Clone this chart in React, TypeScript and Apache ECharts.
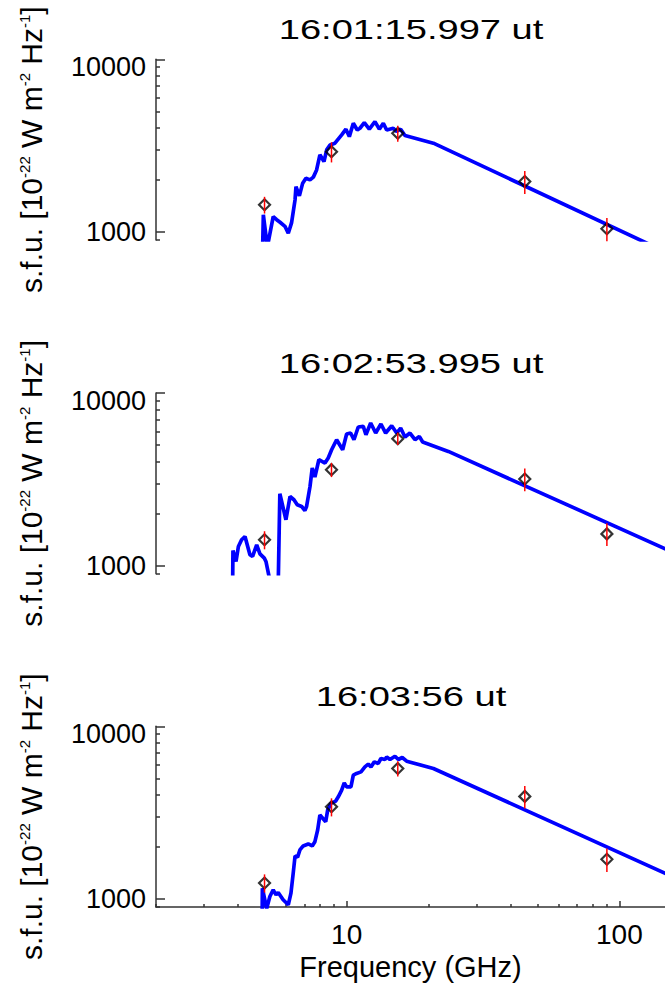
import React, { useEffect, useRef } from 'react';
import * as echarts from 'echarts';

const FONT = '"Liberation Sans", Arial, Helvetica, sans-serif';

// Panel headings (time of each spectrum)
const panelTitles = ['16:01:15.997 ut', '16:02:53.995 ut', '16:03:56 ut'];

// Radiometer frequencies (GHz)
const radioFreqs = [5.0, 8.8, 15.4, 45, 90];

// Radiometer flux densities and uncertainties (s.f.u.) for each time
const fluxA = [1440, 2920, 3730, 1960, 1045];
const errA = [160, 390, 400, 300, 160];
const fluxB = [1415, 3600, 5440, 3180, 1530];
const errB = [170, 340, 440, 480, 230];
const fluxC = [1240, 3420, 5700, 3930, 1700];
const errC = [150, 410, 570, 590, 265];

// Spectrometer spectrum + high-frequency fit: [frequency GHz, flux s.f.u.]
const spectrumA: [number, number][] = [
  [4.92, 800], [4.95, 1260], [5.12, 820], [5.38, 1230], [5.54, 1180], [5.70, 1140],
  [5.94, 1080], [6.11, 985], [6.28, 1130], [6.47, 1540], [6.52, 1835], [6.71, 1620],
  [6.90, 1920], [7.09, 2050], [7.34, 2005], [7.55, 2080], [7.76, 2290], [7.98, 2800],
  [8.26, 2560], [8.45, 2990], [8.69, 3195], [9.06, 3270], [9.59, 3650], [9.94, 3940],
  [10.23, 3570], [10.58, 4265], [10.94, 3900], [11.19, 3990], [11.61, 4300], [12.11, 3940],
  [12.70, 4360], [13.18, 3940], [13.63, 4265], [14.02, 3900], [14.83, 3990], [15.23, 3825],
  [15.78, 3940], [16.36, 3620], [20.8, 3270], [212, 588],
];
const spectrumB: [number, number][] = [
  [3.82, 800], [3.83, 1226], [3.93, 1059], [4.01, 1294], [4.12, 1415], [4.24, 1478],
  [4.42, 1158], [4.52, 1132], [4.68, 1323], [4.81, 1173], [4.99, 1108], [5.06, 1059],
  [5.25, 800], [5.61, 750], [5.69, 2612], [5.99, 1847], [6.20, 2519], [6.41, 2411],
  [6.59, 2255], [6.84, 2204], [7.03, 2090], [7.13, 2204], [7.34, 2879], [7.48, 3679],
  [7.65, 3263], [7.91, 4110], [8.33, 3933], [8.56, 4204], [8.81, 4696], [9.19, 5366],
  [9.67, 4696], [10.0, 5788], [10.34, 5866], [10.64, 5366], [11.03, 6356], [11.51, 6407],
  [11.77, 5734], [12.25, 6705], [12.78, 5866], [13.36, 6616], [13.90, 5866], [14.63, 6467],
  [15.26, 5866], [15.78, 6270], [16.36, 5563], [17.07, 5866], [17.81, 5366], [18.47, 5607],
  [19.0, 5203], [23.6, 4590], [212, 969],
];
const spectrumC: [number, number][] = [
  [4.90, 800], [4.91, 1157], [5.09, 880], [5.23, 1035], [5.38, 1132], [5.51, 1059],
  [5.61, 1092], [5.85, 991], [6.11, 927], [6.25, 1083], [6.37, 1413], [6.47, 1778],
  [6.61, 1748], [6.74, 1925], [6.93, 2031], [7.23, 2085], [7.48, 2031], [7.65, 2150],
  [7.83, 2511], [7.98, 3065], [8.38, 2804], [8.52, 3275], [8.76, 3581], [9.12, 3692],
  [9.32, 3908], [9.59, 4273], [9.80, 4708], [10.0, 4463], [10.37, 4463], [10.58, 5215],
  [10.88, 5334], [11.29, 5448], [11.67, 5822], [12.00, 6036], [12.28, 5822], [12.63, 6223],
  [13.06, 6093], [13.36, 6511], [13.82, 6425], [14.02, 6651], [14.42, 6425], [15.04, 6713],
  [15.47, 6425], [15.99, 6597], [16.60, 6281], [20.8, 5700], [212, 1087],
];

// Axis ranges and tick positions (data units)
const freqRange = [2, 147];
const fluxRange = [900, 10000];
const fluxMajorTicks = [1000, 10000];
const fluxMinorTicks = [900, 2000, 3000, 4000, 5000, 6000, 7000, 8000, 9000];
const freqMajorTicks = [10, 100];
const freqMinorTicks = [2, 3, 4, 5, 6, 7, 8, 9, 20, 30, 40, 50, 60, 70, 80, 90];

const panels = [
  { title: panelTitles[0], spectrum: spectrumA, flux: fluxA, err: errA },
  { title: panelTitles[1], spectrum: spectrumB, flux: fluxB, err: errB },
  { title: panelTitles[2], spectrum: spectrumC, flux: fluxC, err: errC },
];

// Layout
const PLOT_LEFT = 156;
const PLOT_WIDTH = 509;
const PLOT_HEIGHT = 180.7;
const PLOT_TOPS = [59.3, 393, 726.3];
const AXIS_COLOR = '#333';

const lg = (v: number) => Math.log10(v);
const powLabel = (v: number) => String(Math.round(Math.pow(10, v)));

function buildOption() {
  const grid = panels.map((_, i) => ({
    left: PLOT_LEFT,
    top: PLOT_TOPS[i],
    width: PLOT_WIDTH,
    height: PLOT_HEIGHT,
    outerBoundsMode: 'none',
  }));

  const axisLineStyle = { color: AXIS_COLOR, width: 1.5 };
  const xMin = lg(freqRange[0]);
  const xMax = lg(freqRange[1]);
  const yMin = lg(fluxRange[0]);
  const yMax = lg(fluxRange[1]);

  const xAxis: any[] = panels.map((_, i) => {
    const last = i === panels.length - 1;
    return {
      type: 'value',
      gridIndex: i,
      position: 'bottom',
      min: xMin,
      max: xMax,
      show: last,
      splitLine: { show: false },
      axisLine: { show: true, onZero: false, lineStyle: axisLineStyle },
      axisTick: {
        show: true,
        inside: true,
        length: 6,
        customValues: freqMajorTicks.map(lg),
        lineStyle: axisLineStyle,
      },
      axisLabel: {
        show: true,
        customValues: freqMajorTicks.map(lg),
        formatter: (v: number) => powLabel(v),
        fontSize: 28,
        fontFamily: FONT,
        color: '#000',
        margin: 13,
      },
      name: last ? 'Frequency (GHz)' : '',
      nameLocation: 'middle',
      nameGap: 45,
      nameTextStyle: { fontSize: 29, fontFamily: FONT, color: '#000' },
    };
  });
  // minor frequency ticks on the bottom panel
  xAxis.push({
    type: 'value',
    gridIndex: panels.length - 1,
    position: 'bottom',
    min: xMin,
    max: xMax,
    splitLine: { show: false },
    axisLine: { show: false, onZero: false },
    axisTick: {
      show: true,
      inside: true,
      length: 3,
      customValues: freqMinorTicks.map(lg),
      lineStyle: axisLineStyle,
    },
    axisLabel: { show: false },
  });

  const yAxis: any[] = [];
  panels.forEach((_, i) => {
    yAxis.push({
      type: 'value',
      gridIndex: i,
      position: 'left',
      min: yMin,
      max: yMax,
      splitLine: { show: false },
      axisLine: { show: true, onZero: false, lineStyle: axisLineStyle },
      axisTick: {
        show: true,
        inside: true,
        length: 9,
        customValues: fluxMajorTicks.map(lg),
        lineStyle: axisLineStyle,
      },
      axisLabel: {
        show: true,
        customValues: fluxMajorTicks.map(lg),
        margin: 10,
        formatter: (v: number) => (v > 3.5 ? `{hi|${powLabel(v)}}` : `{lo|${powLabel(v)}}`),
        rich: {
          hi: { fontSize: 27, fontFamily: FONT, color: '#000', padding: [16, 0, 0, 0] },
          lo: { fontSize: 27, fontFamily: FONT, color: '#000' },
        },
      },
    });
    yAxis.push({
      type: 'value',
      gridIndex: i,
      position: 'left',
      min: yMin,
      max: yMax,
      splitLine: { show: false },
      axisLine: { show: false, onZero: false },
      axisTick: {
        show: true,
        inside: true,
        length: 4,
        customValues: fluxMinorTicks.map(lg),
        lineStyle: axisLineStyle,
      },
      axisLabel: { show: false },
    });
  });

  const series: any[] = [];
  panels.forEach((p, i) => {
    const xAxisIndex = i;
    const yAxisIndex = 2 * i;
    series.push({
      type: 'line',
      xAxisIndex,
      yAxisIndex,
      data: p.spectrum.map(([f, s]) => [lg(f), lg(s)]),
      showSymbol: false,
      symbol: 'none',
      clip: true,
      silent: true,
      z: 2,
      lineStyle: { color: '#0000ff', width: 3.7 },
    });
    series.push({
      type: 'scatter',
      xAxisIndex,
      yAxisIndex,
      data: radioFreqs.map((f, k) => [lg(f), lg(p.flux[k])]),
      symbol: 'diamond',
      symbolSize: 11,
      silent: true,
      z: 3,
      itemStyle: { color: 'rgba(255,255,255,0)', borderColor: '#000', borderWidth: 2.2 },
    });
    series.push({
      type: 'custom',
      xAxisIndex,
      yAxisIndex,
      silent: true,
      z: 4,
      data: radioFreqs.map((f, k) => [lg(f), lg(p.flux[k] - p.err[k]), lg(p.flux[k] + p.err[k])]),
      renderItem: (_params: any, api: any) => {
        const lo = api.coord([api.value(0), api.value(1)]);
        const hi = api.coord([api.value(0), api.value(2)]);
        return {
          type: 'line',
          shape: { x1: lo[0], y1: lo[1], x2: hi[0], y2: hi[1] },
          style: { stroke: '#ff0000', lineWidth: 1.5 },
        };
      },
    });
  });

  const graphic: any[] = [];
  panels.forEach((p, i) => {
    graphic.push({
      type: 'text',
      x: 411,
      y: PLOT_TOPS[i] - 29.5,
      scaleX: 1.36,
      silent: true,
      style: {
        text: p.title,
        fontSize: 28,
        fontFamily: FONT,
        fill: '#000',
        align: 'center',
        verticalAlign: 'middle',
        textAlign: 'center',
        textVerticalAlign: 'middle',
      },
    });
    graphic.push({
      type: 'text',
      x: 31.7,
      y: PLOT_TOPS[i] + PLOT_HEIGHT / 2,
      rotation: Math.PI / 2,
      silent: true,
      style: {
        text: 's.f.u. [10{sup|-22} W m{sup|-2} Hz{sup|-1}]',
        fontSize: 30,
        fontFamily: FONT,
        fill: '#000',
        align: 'center',
        verticalAlign: 'middle',
        textAlign: 'center',
        textVerticalAlign: 'middle',
        rich: {
          sup: { fontSize: 15, fontFamily: FONT, fill: '#000', verticalAlign: 'top' },
        },
      },
    });
  });

  return {
    animation: false,
    backgroundColor: '#ffffff',
    grid,
    xAxis,
    yAxis,
    series,
    graphic,
  };
}

export default function App() {
  const ref = useRef<HTMLDivElement>(null);

  useEffect(() => {
    if (!ref.current) return;
    const chart = echarts.init(ref.current, undefined, { renderer: 'svg' });
    chart.setOption(buildOption() as any);
    return () => chart.dispose();
  }, []);

  return (
    <div
      ref={ref}
      style={{ position: 'absolute', left: 0, top: 0, width: 665, height: 990, background: '#fff' }}
    />
  );
}
